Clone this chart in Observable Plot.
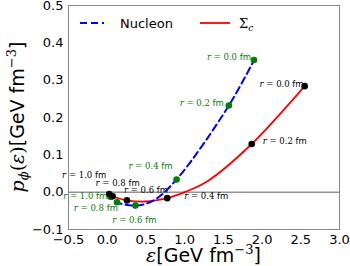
<!DOCTYPE html>
<html><head><meta charset="utf-8">
<script src="https://cdn.jsdelivr.net/npm/d3@7"></script>
<script src="https://cdn.jsdelivr.net/npm/@observablehq/plot@0.6"></script>
<style>body{margin:0;background:#fff}#chart{width:350px;height:266px}</style>
</head><body><div id="chart"></div>
<script>
// ---- data ----
const radii = ["1.0", "0.8", "0.6", "0.4", "0.2", "0.0"];
const nucleonEps = [0.04, 0.126, 0.364, 0.896, 1.571, 1.896];
const nucleonP   = [-0.012, -0.027, -0.036, 0.034, 0.232, 0.354];
const sigmaEps   = [0.026, 0.07, 0.255, 0.775, 1.866, 2.55];
const sigmaP     = [-0.005, -0.011, -0.022, -0.016, 0.129, 0.284];
// extra points
const nucleonLineEps = [0.0, 0.04, 0.126, 0.364, 0.6, 0.896, 1.571, 1.896];
const nucleonLineP   = [-0.004, -0.012, -0.027, -0.036, -0.022, 0.034, 0.232, 0.354];
const sigmaLineEps   = [0.0, 0.026, 0.07, 0.255, 0.5, 0.775, 1.0, 1.3, 1.866, 2.55];
const sigmaLineP     = [-0.002, -0.005, -0.011, -0.022, -0.025, -0.016, 0.0, 0.03, 0.129, 0.284];
const xTicks = [-0.5, 0.0, 0.5, 1.0, 1.5, 2.0, 2.5, 3.0];
const yTicks = [-0.1, 0.0, 0.1, 0.2, 0.3, 0.4, 0.5];
const seriesNames = ["Nucleon", "Σ"];

// ---- label placement (layout) ----
const gDx = [-3, 1, -1, -4, -5, -3], gDy = [0, 6, 15, -13, -2, -3];
const gAnchor = ["end", "end", "middle", "end", "end", "end"];
const bDx = [-3, 5, -3, 17, 11, -1], bDy = [-19, -13, -10, -2, -3, -2];
const bAnchor = ["end", "middle", "start", "start", "start", "end"];

const nucleonPts = radii.map((r, i) => ({r, x: nucleonEps[i], y: nucleonP[i]}));
const sigmaPts = radii.map((r, i) => ({r, x: sigmaEps[i], y: sigmaP[i]}));
const nucleonLine = nucleonLineEps.map((x, i) => ({x, y: nucleonLineP[i]}));
const sigmaLine = sigmaLineEps.map((x, i) => ({x, y: sigmaLineP[i]}));

const W = 350, H = 266, mL = 68, mR = 11, mT = 5, mB = 37;
const GREEN = "#008000", BLUE = "#0000ff", RED = "#ff0000";

const labelMarks = [];
nucleonPts.forEach((d, i) => labelMarks.push(Plot.text([d], {x: "x", y: "y", text: d => d.r,
  dx: gDx[i], dy: gDy[i], textAnchor: gAnchor[i], fill: GREEN, fontSize: 8.5, className: "rlab"})));
sigmaPts.forEach((d, i) => labelMarks.push(Plot.text([d], {x: "x", y: "y", text: d => d.r,
  dx: bDx[i], dy: bDy[i], textAnchor: bAnchor[i], fill: "#000", fontSize: 8.5, className: "rlab"})));

const plot = Plot.plot({
  width: W, height: H, marginLeft: mL, marginRight: mR, marginTop: mT, marginBottom: mB,
  style: {fontFamily: "DejaVu Sans", fontSize: "13px", color: "#000", background: "#fff"},
  x: {domain: [-0.5, 3.0], ticks: xTicks, tickFormat: d3.format(".1f"), label: null, tickSize: 0, tickPadding: 5},
  y: {domain: [-0.1, 0.5], ticks: yTicks, tickFormat: d3.format(".1f"), label: null, tickSize: 0, tickPadding: 5},
  marks: [
    Plot.ruleY([0], {stroke: "#333", strokeWidth: 0.8}),
    Plot.line(sigmaLine, {x: "x", y: "y", curve: "catmull-rom", stroke: RED, strokeWidth: 1.8}),
    Plot.line(nucleonLine, {x: "x", y: "y", curve: "catmull-rom", stroke: BLUE, strokeWidth: 2, strokeDasharray: "7,4"}),
    Plot.dot(nucleonPts, {x: "x", y: "y", r: 3.3, fill: GREEN}),
    Plot.dot(sigmaPts, {x: "x", y: "y", r: 3.3, fill: "#000"}),
    ...labelMarks,
    Plot.frame({stroke: "#888"})
  ]
});
document.getElementById("chart").appendChild(plot);

const svg = d3.select(plot);
// mixed-font point labels: r = x.x fm
svg.selectAll("g.rlab text").each(function() {
  const s = this.textContent;
  const t = d3.select(this); t.text(null);
  t.append("tspan").attr("font-family", "DejaVu Serif").attr("font-style", "italic").text("r");
  t.append("tspan").attr("font-family", "DejaVu Serif").text(" = " + s);
  t.append("tspan").attr("font-family", "DejaVu Sans").text(" fm");
});

// axis labels
const xl = svg.append("text").attr("x", (mL + W - mR) / 2).attr("y", 262)
  .attr("text-anchor", "middle").attr("font-size", 19).attr("font-family", "DejaVu Sans").attr("fill", "#000");
xl.append("tspan").attr("font-family", "DejaVu Serif").attr("font-style", "italic").text("ε");
xl.append("tspan").text("[GeV fm");
xl.append("tspan").attr("font-size", 13).attr("dy", -8).attr("font-family", "DejaVu Serif").text("−3");
xl.append("tspan").attr("dy", 8).text("]");

const yl = svg.append("text").attr("transform", `translate(24,${(mT + H - mB) / 2}) rotate(-90)`)
  .attr("text-anchor", "middle").attr("font-size", 19).attr("font-family", "DejaVu Sans").attr("fill", "#000");
yl.append("tspan").attr("font-family", "DejaVu Serif").attr("font-style", "italic").text("p");
yl.append("tspan").attr("font-family", "DejaVu Serif").attr("font-style", "italic").attr("font-size", 13).attr("dy", 4).text("ϕ");
yl.append("tspan").attr("dy", -4).attr("font-family", "DejaVu Serif").text("(");
yl.append("tspan").attr("font-family", "DejaVu Serif").attr("font-style", "italic").text("ε");
yl.append("tspan").attr("font-family", "DejaVu Serif").text(")");
yl.append("tspan").text("[GeV fm");
yl.append("tspan").attr("font-size", 13).attr("dy", -8).attr("font-family", "DejaVu Serif").text("−3");
yl.append("tspan").attr("dy", 8).text("]");

// legend inside the frame
const lg = svg.append("g").attr("text-anchor", "start");
lg.append("line").attr("x1", 80).attr("x2", 104).attr("y1", 23).attr("y2", 23)
  .attr("stroke", BLUE).attr("stroke-width", 2).attr("stroke-dasharray", "7,4");
lg.append("text").attr("x", 120).attr("y", 23).attr("dy", "0.35em").attr("font-size", 13)
  .attr("font-family", "DejaVu Sans").text(seriesNames[0]);
lg.append("line").attr("x1", 200).attr("x2", 230).attr("y1", 23).attr("y2", 23)
  .attr("stroke", RED).attr("stroke-width", 1.8);
const st = lg.append("text").attr("x", 239).attr("y", 23).attr("dy", "0.35em").attr("font-size", 13)
  .attr("font-family", "DejaVu Serif");
st.append("tspan").text(seriesNames[1]);
st.append("tspan").attr("font-style", "italic").attr("font-size", 9).attr("dy", 3).text("c");
</script>
</body></html>
